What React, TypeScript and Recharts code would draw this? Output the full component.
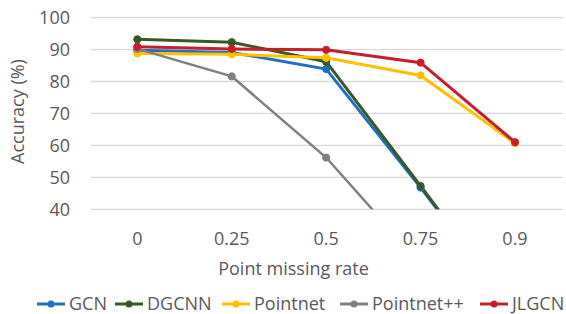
import React from 'react';
import { LineChart, Line, XAxis, YAxis, CartesianGrid } from 'recharts';

const categories = ['0', '0.25', '0.5', '0.75', '0.9'];
const gcn = [89.8, 89.1, 83.9, 46.8, 8];
const dgcnn = [93.2, 92.3, 86.2, 47.3, 8];
const pointnet = [88.8, 88.5, 87.4, 81.9, 60.7];
const pointnetpp = [90.2, 81.6, 56.2, 23, 5];
const jlgcn = [90.9, 90.2, 89.9, 85.9, 61.0];
const yTicks = [40, 50, 60, 70, 80, 90, 100];

const seriesNames = ['GCN', 'DGCNN', 'Pointnet', 'Pointnet++', 'JLGCN'];
const seriesValues = [gcn, dgcnn, pointnet, pointnetpp, jlgcn];
const colors = ['#1F70C1', '#375A25', '#FFC000', '#808080', '#C3202B'];
const keys = ['gcn', 'dgcnn', 'pointnet', 'pointnetpp', 'jlgcn'];
const legendX = [37, 115, 222, 340, 480];

const data = categories.map((c, i) => {
  const row: Record<string, string | number> = { cat: c };
  keys.forEach((k, j) => {
    row[k] = seriesValues[j][i];
  });
  return row;
});

const FONT = '"Open Sans", sans-serif';
const TXT = '#595959';
const FS = 18;

export default function App() {
  return (
    <div style={{ position: 'absolute', left: 0, top: 0, width: 566, height: 314, background: '#fff', fontFamily: FONT }}>
      <LineChart
        width={566}
        height={314}
        data={data}
        margin={{ top: 17.6, right: 3.3, left: 0, bottom: 39 }}
      >
        <CartesianGrid vertical={false} stroke="#D9D9D9" strokeWidth={1.3} />
        <XAxis
          dataKey="cat"
          axisLine={false}
          tickLine={false}
          tickMargin={17}
          height={65.7}
          padding={{ left: 46.3, right: 47.7 }}
          tick={{ fill: TXT, fontSize: FS, fontFamily: FONT }}
          interval={0}
          label={{
            content: (props: any) => {
              const vb = props.viewBox;
              return (
                <text x={293.5} y={vb.y + vb.height} textAnchor="middle" fill={TXT} fontSize={FS} fontFamily={FONT}>
                  Point missing rate
                </text>
              );
            },
          }}
        />
        <YAxis
          domain={[40, 100]}
          ticks={yTicks}
          allowDataOverflow
          axisLine={false}
          tickLine={false}
          width={91}
          tickMargin={15}
          tick={{ fill: TXT, fontSize: FS, fontFamily: FONT }}
          label={{
            content: () => (
              <text
                x={0}
                y={0}
                transform="translate(24,111.5) rotate(-90)"
                textAnchor="middle"
                fill={TXT}
                fontSize={FS}
                fontFamily={FONT}
              >
                Accuracy (%)
              </text>
            ),
          }}
        />
        {keys.map((k, j) => (
          <Line
            key={k}
            type="linear"
            dataKey={k}
            name={seriesNames[j]}
            stroke={colors[j]}
            strokeWidth={j === 3 ? 2.5 : 3}
            dot={{ r: 3.6, fill: colors[j], stroke: colors[j], strokeWidth: 1 }}
            isAnimationActive={false}
          />
        ))}
      </LineChart>
      {seriesNames.map((n, j) => (
        <div
          key={n}
          style={{
            position: 'absolute',
            left: legendX[j],
            top: 293,
            height: 21,
            display: 'flex',
            alignItems: 'center',
            fontSize: FS,
            color: TXT,
            whiteSpace: 'nowrap',
          }}
        >
          <svg width={28} height={10} style={{ display: 'block' }}>
            <line x1={0} y1={5} x2={28} y2={5} stroke={colors[j]} strokeWidth={3} />
            <circle cx={14} cy={5} r={3.5} fill={colors[j]} />
          </svg>
          <span style={{ marginLeft: 4, display: 'block', height: 21, lineHeight: '21px' }}>{n}</span>
        </div>
      ))}
    </div>
  );
}
